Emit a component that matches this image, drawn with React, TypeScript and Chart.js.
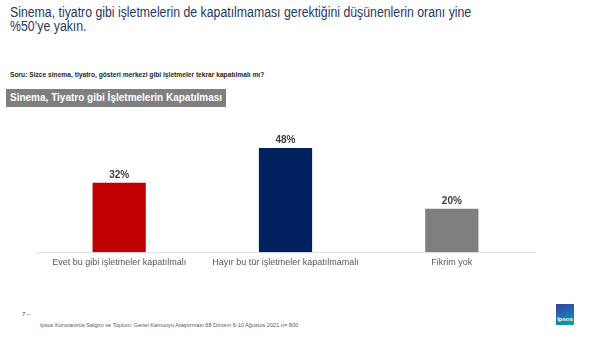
import React, { useEffect, useRef } from "react";
import { Chart, registerables } from "chart.js";

Chart.register(...registerables);

const categories = [
  "Evet bu gibi işletmeler kapatılmalı",
  "Hayır bu tür işletmeler kapatılmamalı",
  "Fikrim yok",
];
const values = [32, 48, 20];
const barColors = ["#c00000", "#002060", "#7f7f7f"];

const valueLabels = {
  id: "valueLabels",
  afterDatasetsDraw(chart: any) {
    const ctx = chart.ctx;
    const meta = chart.getDatasetMeta(0);
    ctx.save();
    ctx.font = "bold 10px 'Liberation Sans', Arial, sans-serif";
    ctx.fillStyle = "#404040";
    ctx.textAlign = "center";
    ctx.textBaseline = "bottom";
    meta.data.forEach((bar: any, i: number) => {
      ctx.fillText(values[i] + "%", bar.x, bar.y - 3);
    });
    ctx.restore();
  },
};

export default function App() {
  const ref = useRef<HTMLCanvasElement>(null);
  useEffect(() => {
    const chart = new Chart(ref.current!, {
      type: "bar",
      data: {
        labels: categories,
        datasets: [
          {
            data: values,
            backgroundColor: barColors,
            barPercentage: 0.32,
            categoryPercentage: 1,
          },
        ],
      },
      options: {
        animation: false,
        responsive: false,
        layout: { padding: { left: 36, right: 65, top: 12, bottom: 7 } },
        plugins: { legend: { display: false }, tooltip: { enabled: false } },
        scales: {
          y: { display: false, min: 0, max: 60 },
          x: {
            grid: { display: false, drawTicks: false },
            border: { display: true, color: "#e3e3e3", width: 1 },
            ticks: {
              color: "#595959",
              padding: 5,
              font: { family: "'Liberation Sans', Arial, sans-serif", size: 9 },
            },
          },
        },
      },
      plugins: [valueLabels],
    });
    return () => chart.destroy();
  }, []);

  const font = "'Liberation Sans', Arial, sans-serif";
  const titleLine: React.CSSProperties = {
    position: "absolute",
    left: 10,
    fontSize: 14,
    lineHeight: "14px",
    color: "#1f3864",
    whiteSpace: "nowrap",
    transform: "scaleX(0.878)",
    transformOrigin: "0 0",
  };
  return (
    <div
      style={{
        position: "fixed",
        left: 0,
        top: 0,
        width: 600,
        height: 338,
        background: "#fff",
        fontFamily: font,
        overflow: "hidden",
      }}
    >
      <div style={{ ...titleLine, top: 5 }}>
        Sinema, tiyatro gibi işletmelerin de kapatılmaması gerektiğini düşünenlerin oranı yine
      </div>
      <div style={{ ...titleLine, top: 19 }}>%50’ye yakın.</div>
      <div
        style={{
          position: "absolute",
          left: 10,
          top: 71,
          fontSize: 7,
          fontWeight: "bold",
          color: "#262626",
          whiteSpace: "nowrap",
          transform: "scaleX(0.95)",
          transformOrigin: "0 0",
        }}
      >
        Soru: Sizce sinema, tiyatro, gösteri merkezi gibi işletmeler tekrar kapatılmalı mı?
      </div>
      <div
        style={{
          position: "absolute",
          left: 6,
          top: 89,
          width: 220,
          height: 18,
          background: "#7f7f7f",
          color: "#fff",
          fontSize: 10,
          fontWeight: "bold",
          lineHeight: "18px",
          paddingLeft: 4,
          boxSizing: "border-box",
          whiteSpace: "nowrap",
          overflow: "hidden",
        }}
      >
        Sinema, Tiyatro gibi İşletmelerin Kapatılması
      </div>
      <canvas
        ref={ref}
        width={600}
        height={170}
        style={{ position: "absolute", left: 0, top: 110, width: 600, height: 170 }}
      />
      <div style={{ position: "absolute", left: 22, top: 311, fontSize: 6, color: "#404040" }}>7 –</div>
      <div
        style={{
          position: "absolute",
          left: 40,
          top: 322,
          fontSize: 5.6,
          color: "#595959",
          whiteSpace: "nowrap",
        }}
      >
        Ipsos Koronavirüs Salgını ve Toplum: Genel Kamuoyu Araştırması 68 Dönem 6-10 Ağustos 2021 n= 800
      </div>
      <div
        style={{
          position: "absolute",
          left: 556,
          top: 304,
          width: 18,
          height: 21,
          background: "linear-gradient(160deg, #3b3f9a 0%, #1f6fb5 50%, #11a79b 100%)",
          color: "#fff",
          fontSize: 6,
          fontWeight: "bold",
          textAlign: "center",
          lineHeight: "30px",
        }}
      >
        Ipsos
      </div>
    </div>
  );
}
